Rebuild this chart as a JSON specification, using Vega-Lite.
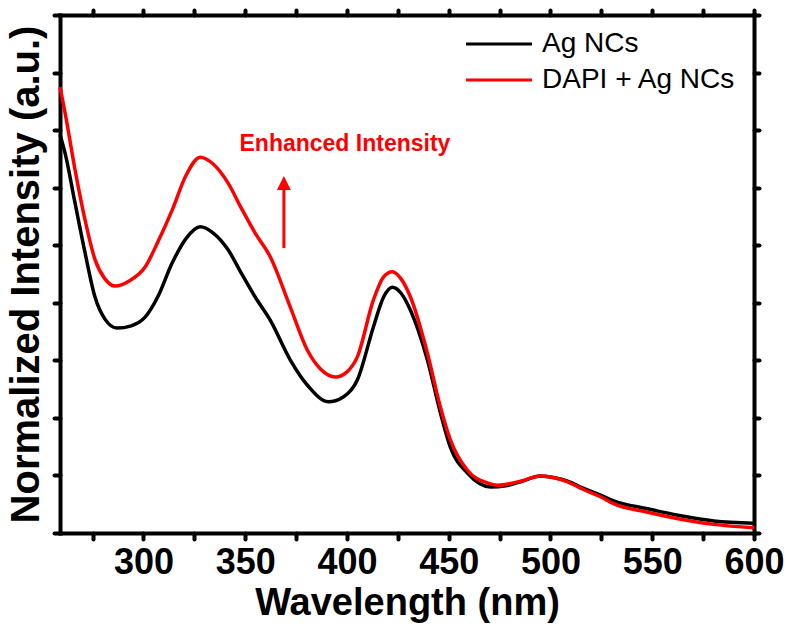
{
  "$schema": "https://vega.github.io/schema/vega-lite/v6.json",
  "width": 694,
  "height": 518,
  "autosize": {"type": "none"},
  "padding": {"left": 60, "top": 15, "right": 39, "bottom": 103},
  "background": "white",
  "config": {
    "view": {"stroke": null},
    "font": "Liberation Sans",
    "axis": {
      "domainColor": "black",
      "domainWidth": 4,
      "domainCap": "square",
      "tickColor": "black",
      "tickWidth": 4,
      "tickSize": 6,
      "tickCap": "round",
      "grid": false,
      "labelFont": "Liberation Sans",
      "labelFontWeight": "bold",
      "labelFontSize": 36,
      "labelColor": "black",
      "titleFont": "Liberation Sans",
      "titleFontWeight": "bold",
      "titleColor": "black"
    }
  },
  "datasets": {
    "spectra": [
      {"s": "Ag NCs", "w": 259, "v": 6.92},
      {"s": "Ag NCs", "w": 261.5, "v": 6.6},
      {"s": "Ag NCs", "w": 266.4, "v": 5.73},
      {"s": "Ag NCs", "w": 271.3, "v": 4.87},
      {"s": "Ag NCs", "w": 276.2, "v": 4.1},
      {"s": "Ag NCs", "w": 281, "v": 3.72},
      {"s": "Ag NCs", "w": 287, "v": 3.56},
      {"s": "Ag NCs", "w": 294, "v": 3.6},
      {"s": "Ag NCs", "w": 300.8, "v": 3.75},
      {"s": "Ag NCs", "w": 307, "v": 4.1},
      {"s": "Ag NCs", "w": 314.1, "v": 4.69},
      {"s": "Ag NCs", "w": 321, "v": 5.12},
      {"s": "Ag NCs", "w": 327.9, "v": 5.32},
      {"s": "Ag NCs", "w": 334, "v": 5.22},
      {"s": "Ag NCs", "w": 341.6, "v": 4.92},
      {"s": "Ag NCs", "w": 348, "v": 4.52},
      {"s": "Ag NCs", "w": 354.9, "v": 4.1},
      {"s": "Ag NCs", "w": 362.3, "v": 3.7},
      {"s": "Ag NCs", "w": 372.1, "v": 3.01},
      {"s": "Ag NCs", "w": 381, "v": 2.55},
      {"s": "Ag NCs", "w": 390.8, "v": 2.28},
      {"s": "Ag NCs", "w": 398, "v": 2.36},
      {"s": "Ag NCs", "w": 405.1, "v": 2.66},
      {"s": "Ag NCs", "w": 413, "v": 3.58},
      {"s": "Ag NCs", "w": 418, "v": 4.1},
      {"s": "Ag NCs", "w": 422.3, "v": 4.27},
      {"s": "Ag NCs", "w": 426.5, "v": 4.17},
      {"s": "Ag NCs", "w": 431.2, "v": 3.87},
      {"s": "Ag NCs", "w": 439.5, "v": 3.01},
      {"s": "Ag NCs", "w": 445.9, "v": 2.09},
      {"s": "Ag NCs", "w": 450.8, "v": 1.49},
      {"s": "Ag NCs", "w": 459.2, "v": 1.04},
      {"s": "Ag NCs", "w": 470.5, "v": 0.8},
      {"s": "Ag NCs", "w": 478, "v": 0.82},
      {"s": "Ag NCs", "w": 485.3, "v": 0.89},
      {"s": "Ag NCs", "w": 495.1, "v": 0.99},
      {"s": "Ag NCs", "w": 502, "v": 0.96},
      {"s": "Ag NCs", "w": 508.4, "v": 0.9},
      {"s": "Ag NCs", "w": 516, "v": 0.78},
      {"s": "Ag NCs", "w": 524.6, "v": 0.66},
      {"s": "Ag NCs", "w": 531, "v": 0.56},
      {"s": "Ag NCs", "w": 547.7, "v": 0.42},
      {"s": "Ag NCs", "w": 564, "v": 0.3},
      {"s": "Ag NCs", "w": 580.2, "v": 0.21},
      {"s": "Ag NCs", "w": 600, "v": 0.17},
      {"s": "DAPI + Ag NCs", "w": 259, "v": 7.75},
      {"s": "DAPI + Ag NCs", "w": 261.5, "v": 7.3},
      {"s": "DAPI + Ag NCs", "w": 266.4, "v": 6.31},
      {"s": "DAPI + Ag NCs", "w": 271.3, "v": 5.44},
      {"s": "DAPI + Ag NCs", "w": 276.2, "v": 4.75},
      {"s": "DAPI + Ag NCs", "w": 281, "v": 4.42},
      {"s": "DAPI + Ag NCs", "w": 286.1, "v": 4.29},
      {"s": "DAPI + Ag NCs", "w": 293, "v": 4.38},
      {"s": "DAPI + Ag NCs", "w": 300.8, "v": 4.62},
      {"s": "DAPI + Ag NCs", "w": 307, "v": 5.05},
      {"s": "DAPI + Ag NCs", "w": 314.1, "v": 5.61},
      {"s": "DAPI + Ag NCs", "w": 321, "v": 6.22},
      {"s": "DAPI + Ag NCs", "w": 327.9, "v": 6.53},
      {"s": "DAPI + Ag NCs", "w": 334, "v": 6.42},
      {"s": "DAPI + Ag NCs", "w": 341.6, "v": 6.08},
      {"s": "DAPI + Ag NCs", "w": 348, "v": 5.65},
      {"s": "DAPI + Ag NCs", "w": 354.9, "v": 5.21},
      {"s": "DAPI + Ag NCs", "w": 362.3, "v": 4.8},
      {"s": "DAPI + Ag NCs", "w": 372.1, "v": 3.93},
      {"s": "DAPI + Ag NCs", "w": 380.5, "v": 3.18},
      {"s": "DAPI + Ag NCs", "w": 387, "v": 2.85},
      {"s": "DAPI + Ag NCs", "w": 394.3, "v": 2.71},
      {"s": "DAPI + Ag NCs", "w": 400, "v": 2.8},
      {"s": "DAPI + Ag NCs", "w": 405.1, "v": 3.06},
      {"s": "DAPI + Ag NCs", "w": 413, "v": 4.05},
      {"s": "DAPI + Ag NCs", "w": 418, "v": 4.45},
      {"s": "DAPI + Ag NCs", "w": 422.3, "v": 4.54},
      {"s": "DAPI + Ag NCs", "w": 426.5, "v": 4.42},
      {"s": "DAPI + Ag NCs", "w": 431.2, "v": 4.1},
      {"s": "DAPI + Ag NCs", "w": 439.5, "v": 3.13},
      {"s": "DAPI + Ag NCs", "w": 445.9, "v": 2.19},
      {"s": "DAPI + Ag NCs", "w": 450.8, "v": 1.62},
      {"s": "DAPI + Ag NCs", "w": 459.2, "v": 1.09},
      {"s": "DAPI + Ag NCs", "w": 469, "v": 0.87},
      {"s": "DAPI + Ag NCs", "w": 474, "v": 0.83},
      {"s": "DAPI + Ag NCs", "w": 485.3, "v": 0.9},
      {"s": "DAPI + Ag NCs", "w": 495.1, "v": 0.99},
      {"s": "DAPI + Ag NCs", "w": 502, "v": 0.96},
      {"s": "DAPI + Ag NCs", "w": 508.4, "v": 0.89},
      {"s": "DAPI + Ag NCs", "w": 516, "v": 0.76},
      {"s": "DAPI + Ag NCs", "w": 524.6, "v": 0.63},
      {"s": "DAPI + Ag NCs", "w": 531, "v": 0.51},
      {"s": "DAPI + Ag NCs", "w": 547.7, "v": 0.36},
      {"s": "DAPI + Ag NCs", "w": 564, "v": 0.24},
      {"s": "DAPI + Ag NCs", "w": 580.2, "v": 0.15},
      {"s": "DAPI + Ag NCs", "w": 600, "v": 0.09}
    ],
    "note": [
      {"label": "Enhanced Intensity", "w": 399, "v": 6.64, "w2": 369, "base": 4.95, "tip": 5.96, "head": 6.08}
    ]
  },
  "resolve": {"axis": {"x": "independent", "y": "independent"}},
  "layer": [
    {
      "data": {"name": "spectra"},
      "mark": {"type": "line", "strokeWidth": 3.5, "interpolate": "monotone"},
      "encoding": {
        "x": {
          "field": "w", "type": "quantitative",
          "scale": {"domain": [259, 600], "nice": false, "zero": false},
          "axis": {
            "orient": "bottom",
            "values": [275, 300, 325, 350, 375, 400, 425, 450, 475, 500, 525, 550, 575, 600],
            "labelExpr": "datum.value % 50 == 0 ? datum.label : ''",
            "labelFlush": false,
            "labelOverlap": false,
            "labelPadding": 6,
            "title": "Wavelength (nm)",
            "titleFontSize": 38,
            "titlePadding": 4
          }
        },
        "y": {
          "field": "v", "type": "quantitative",
          "scale": {"domain": [0, 9], "nice": false},
          "axis": {
            "orient": "left",
            "values": [0, 1, 2, 3, 4, 5, 6, 7, 8, 9],
            "labels": false,
            "title": "Normalized Intensity (a.u.)",
            "titleFontSize": 40,
            "titlePadding": 6
          }
        },
        "color": {
          "field": "s", "type": "nominal",
          "scale": {"domain": ["Ag NCs", "DAPI + Ag NCs"], "range": ["black", "#ff0000"]},
          "legend": {
            "title": null,
            "orient": "none",
            "legendX": 425,
            "legendY": 15,
            "symbolType": "M-3.3,0L3.3,0",
            "symbolSize": 400,
            "symbolStrokeWidth": 3,
            "labelFont": "Liberation Sans",
            "labelFontSize": 28,
            "labelColor": "black",
            "labelOffset": 29,
            "labelLimit": 400,
            "rowPadding": 8,
            "padding": 0
          }
        }
      }
    },
    {
      "data": {"name": "note"},
      "mark": {"type": "rule", "color": "#ff0000", "strokeWidth": 3},
      "encoding": {
        "x": {"field": "w2", "type": "quantitative", "axis": null},
        "y": {"field": "base", "type": "quantitative", "axis": null},
        "y2": {"field": "tip"}
      }
    },
    {
      "data": {"name": "note"},
      "mark": {"type": "point", "shape": "M-1,1L0,-1L1,1Z", "filled": true, "color": "#ff0000", "opacity": 1, "size": 196},
      "encoding": {
        "x": {"field": "w2", "type": "quantitative", "axis": null},
        "y": {"field": "head", "type": "quantitative", "axis": null}
      }
    },
    {
      "data": {"name": "note"},
      "mark": {"type": "text", "color": "#ff0000", "font": "Liberation Sans", "fontWeight": "bold", "fontSize": 23, "align": "center", "baseline": "alphabetic"},
      "encoding": {
        "x": {
          "field": "w", "type": "quantitative",
          "axis": {"orient": "top", "values": [275, 300, 325, 350, 375, 400, 425, 450, 475, 500, 525, 550, 575, 600], "labels": false, "title": null, "tickSize": 5}
        },
        "y": {
          "field": "v", "type": "quantitative",
          "axis": {"orient": "right", "values": [0, 1, 2, 3, 4, 5, 6, 7, 8, 9], "labels": false, "title": null, "tickSize": 5}
        },
        "text": {"field": "label"}
      }
    }
  ]
}
